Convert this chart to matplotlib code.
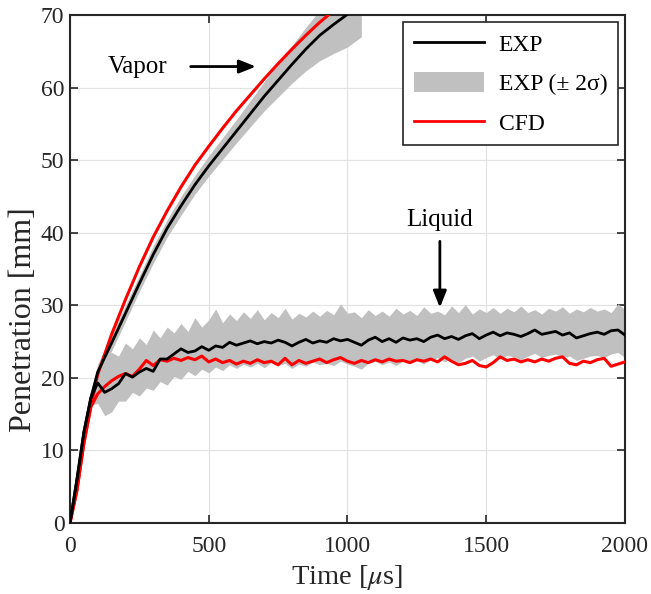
import numpy as np
import matplotlib
matplotlib.use("Agg")
import matplotlib.pyplot as plt
from matplotlib.patches import Patch
from matplotlib.lines import Line2D

# ---------------- data ----------------
vap_t = [0, 25, 50, 75, 100, 150, 200, 250, 300, 350, 400, 450, 500, 550, 600,
         650, 700, 750, 800, 850, 900, 950, 1000, 1050]
vap_exp = [0, 6, 12.5, 17.2, 20.8, 24.8, 28.9, 33.0, 37.0, 40.6, 43.7, 46.6, 49.2,
           51.6, 54.0, 56.4, 58.8, 61.0, 63.2, 65.3, 67.2, 68.7, 70.1, 71.5]
vap_lo = [0, 5.5, 11.7, 16.2, 19.7, 23.7, 27.8, 31.9, 35.8, 39.4, 42.4, 45.3, 47.8,
          50.1, 52.4, 54.6, 56.8, 58.7, 60.6, 62.3, 63.7, 64.7, 65.6, 67.0]
vap_hi = [0, 6.5, 13.3, 18.2, 21.9, 25.9, 30.0, 34.1, 38.2, 41.8, 45.0, 47.9, 50.6,
          53.1, 55.6, 58.2, 60.8, 63.3, 65.8, 68.3, 70.7, 72.7, 74.6, 76.0]

cfd_vap_t = [0, 25, 50, 75, 100, 150, 200, 250, 300, 350, 400, 450, 500, 550, 600,
             650, 700, 750, 800, 850, 900, 950]
cfd_vap = [0, 4.5, 11, 16, 20.5, 26, 30.8, 35.3, 39.4, 43.0, 46.3, 49.3, 51.9, 54.4,
           56.8, 59.0, 61.2, 63.3, 65.3, 67.2, 69.0, 70.6]

liq_t = np.arange(0, 2001, 25)
liq_exp = [0, 6, 12.5, 17.2,
           19.3, 18.0, 18.5, 19.2, 20.6, 20.1, 20.8, 21.3, 20.9, 22.6, 22.6, 23.3,
           24.0, 23.5, 23.7, 24.3, 23.8, 24.4, 24.2, 24.9, 24.5, 24.8, 25.1, 24.7,
           25.0, 24.8, 25.2, 24.9, 24.4, 24.9, 25.3, 24.8, 25.1, 24.9, 25.4, 25.1,
           25.3, 24.9, 24.5, 25.2, 25.6, 25.0, 25.4, 24.9, 25.5, 25.2, 25.4, 25.0,
           25.6, 25.9, 25.4, 25.7, 25.3, 25.8, 26.1, 25.4, 25.9, 26.3, 25.8, 26.2,
           26.0, 25.7, 26.1, 26.6, 26.0, 26.2, 26.4, 25.9, 26.2, 25.5, 25.8, 26.1,
           26.3, 26.0, 26.5, 26.6, 25.9]
liq_cfd = [0, 4.5, 11, 16,
           17.8, 18.8, 19.6, 20.2, 20.6, 20.2, 21.2, 22.4, 21.7, 22.5, 22.3, 22.7,
           22.4, 22.8, 22.5, 23.0, 22.2, 22.6, 22.1, 22.4, 21.9, 22.3, 22.0, 22.5,
           22.1, 22.3, 21.8, 22.7, 21.8, 22.4, 22.0, 22.3, 22.6, 22.1, 22.5, 22.8,
           22.3, 22.0, 22.4, 22.1, 22.5, 22.2, 22.6, 22.3, 22.4, 22.1, 22.5, 22.3,
           22.6, 22.2, 22.9, 22.3, 21.8, 22.0, 22.4, 21.7, 21.5, 22.1, 22.9, 22.4,
           22.6, 22.2, 22.5, 22.2, 22.6, 22.3, 22.7, 22.9, 22.0, 21.8, 22.3, 22.1,
           22.5, 22.7, 21.6, 21.9, 22.2]
liq_hi = [0, 6.5, 13.3, 18.2,
          21.5, 22.8, 23.5, 23.0, 24.8, 24.0, 25.5, 24.6, 26.6, 25.5, 27.0, 26.2,
          27.5, 26.4, 28.3, 27.0, 28.0, 29.5, 27.6, 28.8, 27.9, 29.1, 28.2, 29.4,
          28.0, 29.0, 28.3, 29.6, 28.1, 28.9, 28.4, 29.2, 28.5, 29.3, 28.7, 30.2,
          28.9, 29.1, 28.3, 29.4, 28.6, 29.2, 28.5, 29.6, 28.8, 29.3, 28.6, 29.8,
          28.9, 29.2, 28.7, 29.9, 29.0, 30.1, 28.8, 29.5, 29.0, 29.7, 28.9, 29.6,
          29.1, 29.9, 29.0, 29.4, 28.8, 29.6, 29.2, 29.8, 28.9, 29.5, 29.1, 29.7,
          29.2, 29.5, 29.0, 30.2, 29.4]
liq_lo = [0, 5.5, 11.7, 16.2,
          16.5, 14.8, 15.3, 16.8, 16.8, 18.0, 17.5, 18.6, 18.3, 19.5, 19.0, 20.2,
          19.8, 20.9, 20.3, 21.2, 20.7, 21.5, 21.0, 21.8, 21.3, 21.9, 21.5, 22.0,
          21.4, 22.1, 21.7, 22.0, 21.3, 21.9, 21.6, 22.2, 21.8, 22.0, 21.7, 22.3,
          21.9, 21.6, 21.2, 22.0, 22.3, 21.8, 22.2, 21.7, 22.3, 22.0, 22.4, 21.9,
          22.5, 22.8, 22.2, 22.6, 22.1, 22.7, 23.0, 22.3, 22.8, 23.2, 22.6, 23.1,
          22.9, 22.5, 23.0, 23.4, 22.8, 23.1, 23.3, 22.8, 23.0, 22.4, 22.7, 23.0,
          23.1, 22.8, 23.3, 23.5, 22.8]

x_ticks = [0, 500, 1000, 1500, 2000]
y_ticks = [0, 10, 20, 30, 40, 50, 60, 70]

# ---------------- style ----------------
plt.rcParams['font.family'] = ['Liberation Serif', 'DejaVu Serif']
plt.rcParams['mathtext.fontset'] = 'stix'

fig = plt.figure(figsize=(6.51, 5.94), dpi=100)
ax = fig.add_axes([0.1075, 0.1195, 0.8525, 0.8552])

band_col = '#c0c0c0'
ax.fill_between(vap_t, vap_lo, vap_hi, color=band_col, lw=0, zorder=2)
ax.fill_between(liq_t, liq_lo, liq_hi, color=band_col, lw=0, zorder=2)

ax.plot(vap_t, vap_exp, color='black', lw=2, zorder=4)
ax.plot(liq_t, liq_exp, color='black', lw=2, zorder=4)
ax.plot(cfd_vap_t, cfd_vap, color='#ff0000', lw=2.2, zorder=3)
ax.plot(liq_t, liq_cfd, color='#ff0000', lw=2.2, zorder=3)

ax.set_xlim(0, 2000)
ax.set_ylim(0, 70)
ax.set_xticks(x_ticks)
ax.set_yticks(y_ticks)
ax.grid(True, color='#e3e3e3', lw=0.9, zorder=0)
ax.set_axisbelow(True)
ax.tick_params(direction='in', length=6, width=1.2, top=True, right=True,
               labelsize=17, colors='#262626')
ax.tick_params(axis='x', pad=9)
ax.tick_params(axis='y', pad=4)
for s in ax.spines.values():
    s.set_linewidth(1.5)
    s.set_color('#262626')

ax.set_xlabel(r'Time [$\mu$s]', fontsize=20.5, color='#262626', labelpad=5)
ax.set_ylabel('Penetration [mm]', fontsize=23, color='#262626')
ax.yaxis.set_label_coords(-0.058, 0.40)

# annotations
ax.text(245, 62.9, 'Vapor', fontsize=18, ha='center', va='center')
ax.annotate('', xy=(680, 62.9), xytext=(425, 62.9),
            arrowprops=dict(arrowstyle='-|>,head_length=1.0,head_width=0.4',
                            color='black', lw=2))
ax.text(1333, 41.8, 'Liquid', fontsize=18, ha='center', va='center')
ax.annotate('', xy=(1333, 29.3), xytext=(1333, 39.2),
            arrowprops=dict(arrowstyle='-|>,head_length=1.0,head_width=0.4',
                            color='black', lw=2))

handles = [Line2D([], [], color='black', lw=2),
           Patch(facecolor=band_col, edgecolor='none'),
           Line2D([], [], color='#ff0000', lw=2)]
labels = ['EXP', 'EXP (± 2σ)', 'CFD']
leg = ax.legend(handles, labels, loc='upper right', fontsize=17, frameon=True,
                fancybox=False, edgecolor='#262626', framealpha=1,
                handlelength=3.0, handleheight=0.9, labelspacing=0.7,
                borderpad=0.45, handletextpad=0.6, borderaxespad=0.3)
leg.get_frame().set_linewidth(1.2)

fig.savefig('out.png', dpi=100)
